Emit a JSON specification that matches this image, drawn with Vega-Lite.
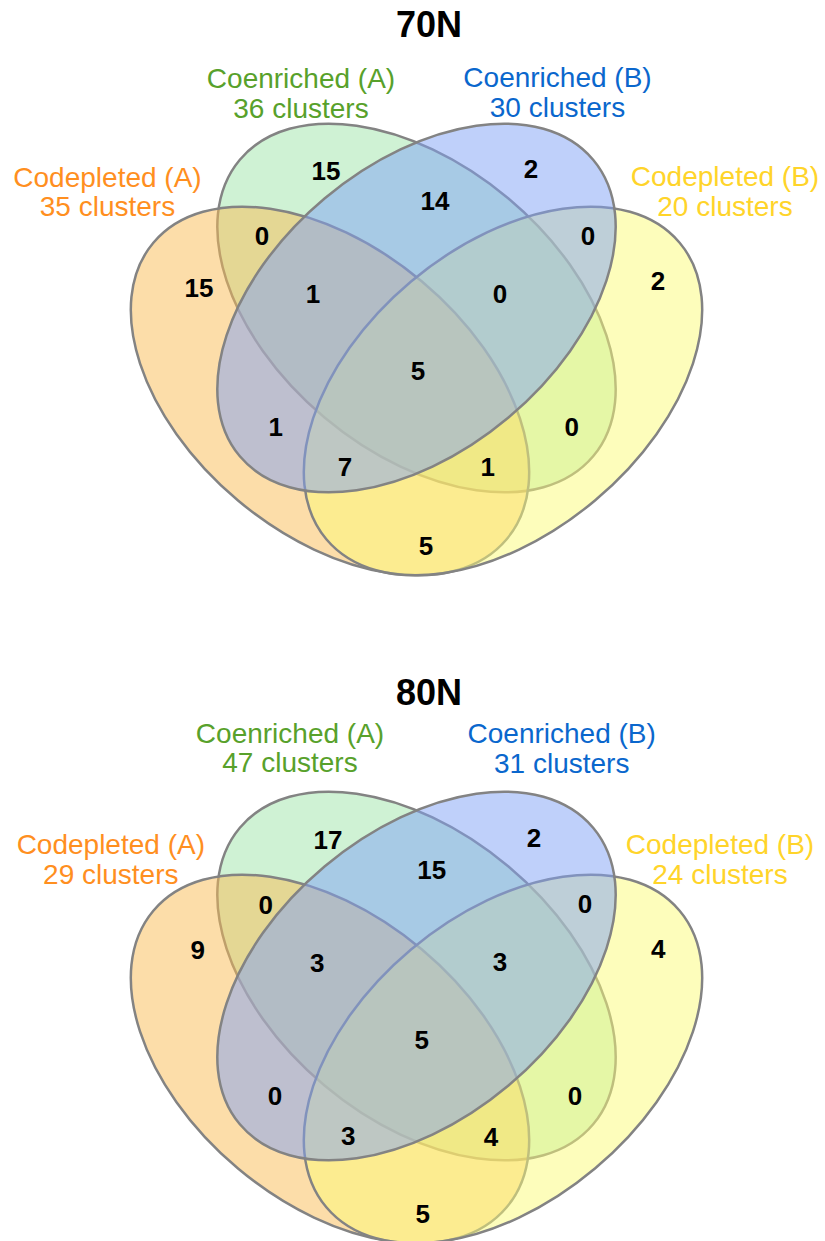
{
  "$schema": "https://vega.github.io/schema/vega-lite/v6.json",
  "padding": 0,
  "background": "white",
  "config": {"view": {"stroke": null}, "font": "Liberation Sans"},
  "data": {"values": [
    {"panel": "70N", "kind": "set", "set": "Coenriched (A)", "x": 416.5, "y": 308},
    {"panel": "70N", "kind": "set", "set": "Codepleted (A)", "x": 330, "y": 391},
    {"panel": "70N", "kind": "set", "set": "Codepleted (B)", "x": 503, "y": 391},
    {"panel": "70N", "kind": "set", "set": "Coenriched (B)", "x": 416.5, "y": 308},
    {"panel": "80N", "kind": "set", "set": "Coenriched (A)", "x": 416.5, "y": 308},
    {"panel": "80N", "kind": "set", "set": "Codepleted (A)", "x": 330, "y": 391},
    {"panel": "80N", "kind": "set", "set": "Codepleted (B)", "x": 503, "y": 391},
    {"panel": "80N", "kind": "set", "set": "Coenriched (B)", "x": 416.5, "y": 308},

    {"panel": "70N", "kind": "title", "label": "70N", "x": 429, "y": 36.7},
    {"panel": "80N", "kind": "title", "label": "80N", "x": 429, "y": 36.5},

    {"panel": "70N", "kind": "label", "set": "Codepleted (A)", "label": "Codepleted (A)\n35 clusters", "x": 107.5, "y": 186.7},
    {"panel": "70N", "kind": "label", "set": "Coenriched (A)", "label": "Coenriched (A)\n36 clusters", "x": 301, "y": 88.3},
    {"panel": "70N", "kind": "label", "set": "Coenriched (B)", "label": "Coenriched (B)\n30 clusters", "x": 557.5, "y": 87.3},
    {"panel": "70N", "kind": "label", "set": "Codepleted (B)", "label": "Codepleted (B)\n20 clusters", "x": 725, "y": 186},
    {"panel": "80N", "kind": "label", "set": "Codepleted (A)", "label": "Codepleted (A)\n29 clusters", "x": 110.8, "y": 186},
    {"panel": "80N", "kind": "label", "set": "Coenriched (A)", "label": "Coenriched (A)\n47 clusters", "x": 290, "y": 74.5},
    {"panel": "80N", "kind": "label", "set": "Coenriched (B)", "label": "Coenriched (B)\n31 clusters", "x": 561.7, "y": 75},
    {"panel": "80N", "kind": "label", "set": "Codepleted (B)", "label": "Codepleted (B)\n24 clusters", "x": 720, "y": 186},

    {"panel": "70N", "kind": "count", "count": 15, "x": 326, "y": 170.5},
    {"panel": "70N", "kind": "count", "count": 2, "x": 531, "y": 168},
    {"panel": "70N", "kind": "count", "count": 15, "x": 199, "y": 287.5},
    {"panel": "70N", "kind": "count", "count": 2, "x": 658, "y": 280},
    {"panel": "70N", "kind": "count", "count": 14, "x": 435, "y": 200},
    {"panel": "70N", "kind": "count", "count": 0, "x": 262, "y": 235},
    {"panel": "70N", "kind": "count", "count": 0, "x": 588, "y": 235},
    {"panel": "70N", "kind": "count", "count": 1, "x": 313, "y": 293},
    {"panel": "70N", "kind": "count", "count": 0, "x": 500, "y": 293},
    {"panel": "70N", "kind": "count", "count": 5, "x": 418, "y": 370},
    {"panel": "70N", "kind": "count", "count": 1, "x": 275.7, "y": 426.7},
    {"panel": "70N", "kind": "count", "count": 0, "x": 571.7, "y": 426.7},
    {"panel": "70N", "kind": "count", "count": 7, "x": 345, "y": 466.7},
    {"panel": "70N", "kind": "count", "count": 1, "x": 487.7, "y": 466.7},
    {"panel": "70N", "kind": "count", "count": 5, "x": 426, "y": 545},

    {"panel": "80N", "kind": "count", "count": 17, "x": 328, "y": 171},
    {"panel": "80N", "kind": "count", "count": 2, "x": 534, "y": 169.5},
    {"panel": "80N", "kind": "count", "count": 9, "x": 197.7, "y": 281.5},
    {"panel": "80N", "kind": "count", "count": 4, "x": 658.3, "y": 280.5},
    {"panel": "80N", "kind": "count", "count": 15, "x": 431.7, "y": 201},
    {"panel": "80N", "kind": "count", "count": 0, "x": 265.7, "y": 236},
    {"panel": "80N", "kind": "count", "count": 0, "x": 585, "y": 235},
    {"panel": "80N", "kind": "count", "count": 3, "x": 317.3, "y": 294.3},
    {"panel": "80N", "kind": "count", "count": 3, "x": 500, "y": 293.5},
    {"panel": "80N", "kind": "count", "count": 5, "x": 421.7, "y": 371},
    {"panel": "80N", "kind": "count", "count": 0, "x": 275, "y": 427.6},
    {"panel": "80N", "kind": "count", "count": 0, "x": 575, "y": 427},
    {"panel": "80N", "kind": "count", "count": 3, "x": 348.3, "y": 467.3},
    {"panel": "80N", "kind": "count", "count": 4, "x": 491, "y": 468.4},
    {"panel": "80N", "kind": "count", "count": 5, "x": 422.7, "y": 545}
  ]},
  "facet": {"row": {"field": "panel", "type": "nominal", "header": {"labels": false, "title": null}}},
  "spacing": {"row": 87},
  "spec": {
    "width": 825,
    "height": 577,
    "encoding": {
      "x": {"field": "x", "type": "quantitative", "scale": {"domain": [0, 825], "nice": false, "zero": false}, "axis": null},
      "y": {"field": "y", "type": "quantitative", "scale": {"domain": [0, 577], "nice": false, "zero": false, "reverse": true}, "axis": null}
    },
    "layer": [
      {
        "transform": [{"filter": "datum.kind === 'set'"}],
        "mark": {"type": "point", "filled": true, "opacity": 1, "fillOpacity": 0.5, "stroke": "#838383", "strokeWidth": 2.5, "strokeOpacity": 1, "size": 212705},
        "encoding": {
          "fill": {"field": "set", "type": "nominal", "legend": null,
            "scale": {"domain": ["Coenriched (A)", "Codepleted (A)", "Codepleted (B)", "Coenriched (B)"],
                      "range": ["#9FE5A9", "#F9BB53", "#FBFB77", "#7FA1F5"]}},
          "shape": {"field": "set", "type": "nominal", "legend": null,
            "scale": {"domain": ["Coenriched (A)", "Codepleted (A)", "Codepleted (B)", "Coenriched (B)"],
                      "range": [
                        "M -0.766 -0.643 A 1 0.62 40 1 1 0.766 0.643 A 1 0.62 40 1 1 -0.766 -0.643 Z",
                        "M -0.766 -0.643 A 1 0.62 40 1 1 0.766 0.643 A 1 0.62 40 1 1 -0.766 -0.643 Z",
                        "M -0.766 0.643 A 1 0.62 -40 1 1 0.766 -0.643 A 1 0.62 -40 1 1 -0.766 0.643 Z",
                        "M -0.766 0.643 A 1 0.62 -40 1 1 0.766 -0.643 A 1 0.62 -40 1 1 -0.766 0.643 Z"
                      ]}}
        }
      },
      {
        "transform": [{"filter": "datum.kind === 'label'"}],
        "mark": {"type": "text", "fontSize": 28, "align": "center", "baseline": "alphabetic", "lineBreak": "\n", "lineHeight": 29.5},
        "encoding": {
          "text": {"field": "label", "type": "nominal"},
          "color": {"field": "set", "type": "nominal", "legend": null,
            "scale": {"domain": ["Coenriched (A)", "Codepleted (A)", "Codepleted (B)", "Coenriched (B)"],
                      "range": ["#58A12B", "#FF8F1F", "#FFD42A", "#0A67CD"]}}
        }
      },
      {
        "transform": [{"filter": "datum.kind === 'count'"}],
        "mark": {"type": "text", "fontSize": 26, "fontWeight": "bold", "align": "center", "baseline": "middle", "dy": 1.5, "color": "black"},
        "encoding": {"text": {"field": "count", "type": "quantitative"}}
      },
      {
        "transform": [{"filter": "datum.kind === 'title'"}],
        "mark": {"type": "text", "fontSize": 36, "fontWeight": "bold", "align": "center", "baseline": "alphabetic", "color": "black"},
        "encoding": {"text": {"field": "label", "type": "nominal"}}
      }
    ]
  }
}
